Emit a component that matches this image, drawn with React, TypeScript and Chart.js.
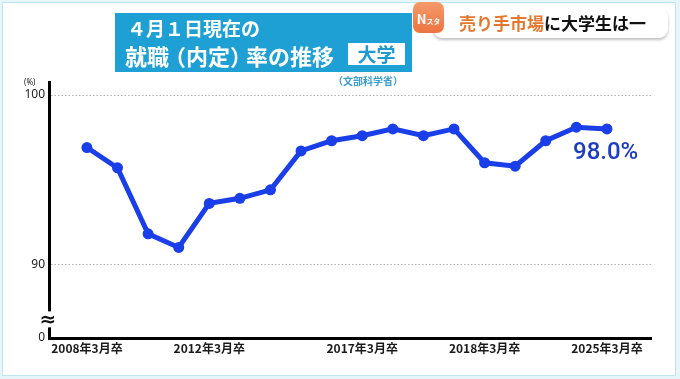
import React, { useEffect, useRef } from "react";
import { Chart, registerables } from "chart.js";

Chart.register(...registerables);

const years = [2008, 2009, 2010, 2011, 2012, 2013, 2014, 2015, 2016, 2017, 2018, 2019, 2020, 2021, 2022, 2023, 2024, 2025];
const rates = [96.9, 95.7, 91.8, 91.0, 93.6, 93.9, 94.4, 96.7, 97.3, 97.6, 98.0, 97.6, 98.0, 96.0, 95.8, 97.3, 98.1, 98.0];
const xTickIndex = [0, 4, 9, 13, 17];
const xTickLabels = ["2008年3月卒", "2012年3月卒", "2017年3月卒", "2018年3月卒", "2025年3月卒"];
const yTicks = [90, 100];
const yMin = 85.65;
const yMax = 100.77;
const lastLabel = "98.0%";

const JP = '"Noto Sans CJK JP", "Noto Sans", sans-serif';
const LINE = "#1a3ee8";

const gridPlugin = {
  id: "dottedGrid",
  beforeDatasetsDraw(chart: any) {
    const { ctx, chartArea, scales } = chart;
    ctx.save();
    ctx.strokeStyle = "#b0b0b0";
    ctx.lineWidth = 1;
    ctx.setLineDash([1.5, 2]);
    yTicks.forEach((v) => {
      const y = Math.round(scales.y.getPixelForValue(v)) + 0.5;
      ctx.beginPath();
      ctx.moveTo(chartArea.left + 2, y);
      ctx.lineTo(chartArea.right, y);
      ctx.stroke();
    });
    ctx.restore();
  },
};

const breakPlugin = {
  id: "axisBreak",
  afterDraw(chart: any) {
    const { ctx, chartArea, scales } = chart;
    const x = chartArea.left;
    const yb = scales.y.getPixelForValue(86.75);
    ctx.save();
    ctx.fillStyle = "#ffffff";
    ctx.fillRect(x - 6, yb - 8, 12, 16);
    ctx.fillStyle = "#111";
    ctx.font = "bold 20px 'DejaVu Sans', sans-serif";
    ctx.textAlign = "center";
    ctx.textBaseline = "middle";
    ctx.fillText("≈", x - 1, yb + 1);
    ctx.restore();
  },
};

export default function App() {
  const ref = useRef<HTMLCanvasElement>(null);
  useEffect(() => {
    document.body.style.margin = "0";
    const chart = new Chart(ref.current!, {
      type: "line",
      data: {
        datasets: [
          {
            data: years.map((_, i) => ({ x: i, y: rates[i] })),
            borderColor: LINE,
            backgroundColor: LINE,
            borderWidth: 5,
            pointRadius: 5.5,
            pointBackgroundColor: LINE,
            pointBorderWidth: 0,
            tension: 0,
          },
        ],
      },
      options: {
        animation: false,
        responsive: false,
        layout: { padding: { left: 0, top: 82, right: 29, bottom: 11 } },
        plugins: { legend: { display: false }, tooltip: { enabled: false } },
        scales: {
          x: {
            type: "linear",
            min: -1.24,
            max: 18.44,
            afterBuildTicks: (s: any) => {
              s.ticks = xTickIndex.map((v) => ({ value: v }));
            },
            afterFit: (s: any) => {
              s.height = 30;
            },
            ticks: {
              autoSkip: false,
              maxRotation: 0,
              padding: 3,
              color: "#1a1a1a",
              font: { family: JP, size: 12, weight: "bold" },
              callback: (v: any) => {
                const k = xTickIndex.indexOf(Number(v));
                return k >= 0 ? xTickLabels[k] : "";
              },
            },
            grid: { display: false, drawTicks: false },
            border: { display: true, color: "#000", width: 3 },
          },
          y: {
            type: "linear",
            min: yMin,
            max: yMax,
            afterBuildTicks: (s: any) => {
              s.ticks = [yMin, ...yTicks].map((v) => ({ value: v }));
            },
            afterFit: (s: any) => {
              s.width = 49;
            },
            ticks: {
              padding: 4,
              color: "#222",
              font: { family: '"Noto Sans", sans-serif', size: 12 },
              callback: (v: any) => (Number(v) === yMin ? "0" : String(v)),
            },
            grid: { display: false, drawTicks: false },
            border: { display: true, color: "#000", width: 3 },
          },
        },
      } as any,
      plugins: [gridPlugin, breakPlugin],
    });
    return () => chart.destroy();
  }, []);

  return (
    <div style={{ position: "relative", width: 680, height: 379, background: "#e6f5f9", overflow: "hidden" }}>
      <div
        style={{
          position: "absolute",
          left: 2,
          top: 2,
          width: 672,
          height: 372,
          background: "#ffffff",
          border: "1.5px solid #bfe4ee",
        }}
      />
      <canvas ref={ref} width={680} height={379} style={{ position: "absolute", left: 0, top: 0 }} />
      {/* title */}
      <div
        style={{
          position: "absolute",
          left: 115,
          top: 13,
          width: 297,
          height: 59,
          background: "#1ea0d4",
          color: "#fff",
          fontFamily: JP,
          fontWeight: 700,
        }}
      >
        <div style={{ position: "absolute", left: 12, top: 4, fontSize: 19, lineHeight: "22px", whiteSpace: "nowrap" }}>
          ４月１日現在の
        </div>
        <div style={{ position: "absolute", left: 10, top: 29, fontSize: 22, lineHeight: "26px", whiteSpace: "nowrap" }}>
          就<span style={{ letterSpacing: -5 }}>職</span>（内定<span style={{ letterSpacing: -6 }}>）</span>率の推移
        </div>
        <div
          style={{
            position: "absolute",
            left: 233,
            top: 30,
            width: 57,
            height: 22,
            background: "#fff",
            color: "#1e9ad0",
            fontSize: 19,
            lineHeight: "22px",
            textAlign: "center",
          }}
        >
          大学
        </div>
      </div>
      <div
        style={{
          position: "absolute",
          left: 333,
          top: 73,
          fontFamily: JP,
          fontWeight: 700,
          fontSize: 10,
          color: "#3a9bd0",
          whiteSpace: "nowrap",
        }}
      >
        （文部科学省）
      </div>
      {/* top-right badge */}
      <div
        style={{
          position: "absolute",
          left: 433,
          top: 8,
          width: 235,
          height: 30,
          background: "#fff",
          borderRadius: 9,
          boxShadow: "0 2px 3px rgba(0,0,0,0.25)",
        }}
      />
      <div
        style={{
          position: "absolute",
          left: 413,
          top: 2,
          width: 31,
          height: 31,
          borderRadius: 7,
          background: "linear-gradient(#f59a6a, #ec7440)",
          color: "#fff",
          fontFamily: JP,
          fontWeight: 700,
          whiteSpace: "nowrap",
          textAlign: "center",
          lineHeight: "31px",
        }}
      >
        <span style={{ fontSize: 13 }}>N</span>
        <span style={{ fontSize: 7 }}>スタ</span>
      </div>
      <div
        style={{
          position: "absolute",
          left: 459,
          top: 11,
          fontFamily: JP,
          fontWeight: 700,
          fontSize: 17,
          lineHeight: "24px",
          whiteSpace: "nowrap",
          color: "#111",
        }}
      >
        <span style={{ color: "#e5782f" }}>売り手市場</span>に大学生は一
      </div>
      {/* units */}
      <div
        style={{
          position: "absolute",
          left: 24,
          top: 76,
          fontFamily: '"Noto Sans", sans-serif',
          fontSize: 8,
          color: "#222",
        }}
      >
        (%)
      </div>
      <div
        style={{
          position: "absolute",
          left: 573,
          top: 137,
          fontFamily: "Roboto, sans-serif",
          fontWeight: 500,
          fontSize: 24,
          lineHeight: "28px",
          color: "#1d3cc4",
          whiteSpace: "nowrap",
        }}
      >
        {lastLabel}
      </div>
    </div>
  );
}
